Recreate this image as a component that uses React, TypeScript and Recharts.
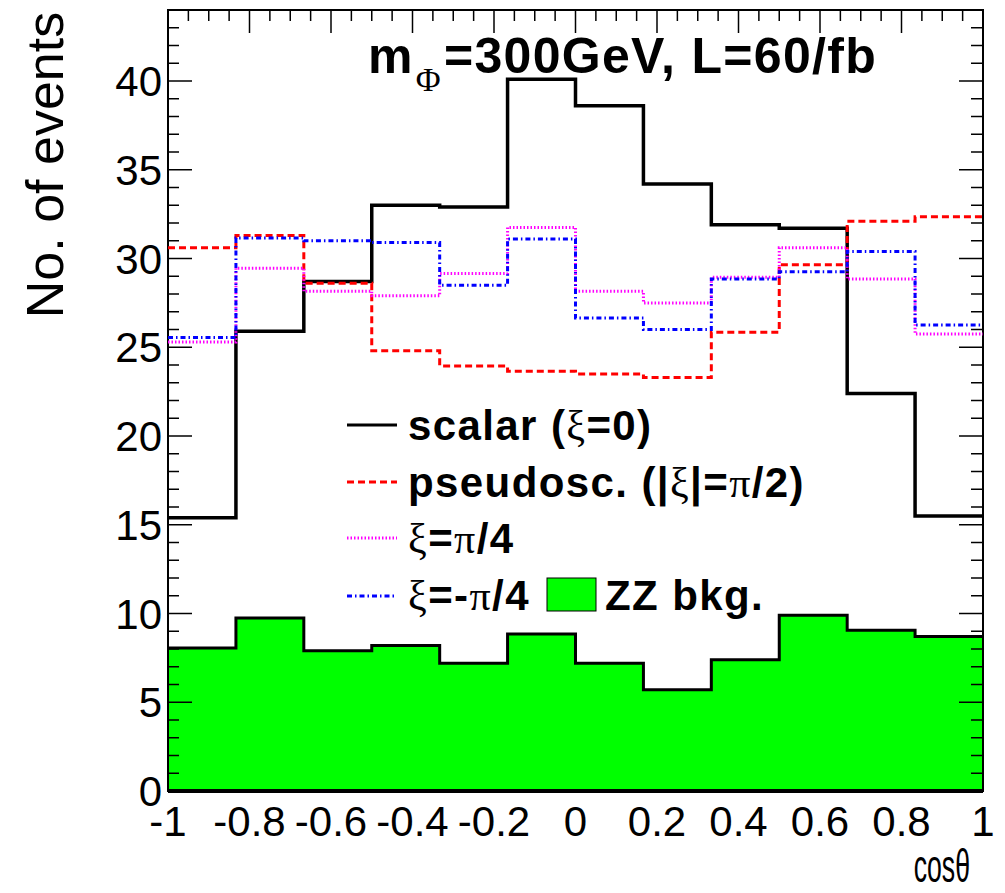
import React from 'react';
import { ComposedChart, Line, Area, XAxis, YAxis, ReferenceArea, ReferenceLine } from 'recharts';

// bin edges of cos(theta), 12 bins
const binEdges = [-1, -0.8333, -0.6667, -0.5, -0.3333, -0.1667, 0, 0.1667, 0.3333, 0.5, 0.6667, 0.8333, 1];

const scalarEvents = [15.4, 25.9, 28.7, 33.0, 32.9, 40.1, 38.6, 34.2, 31.9, 31.7, 22.4, 15.5];
const pseudoEvents = [30.6, 31.3, 28.6, 24.8, 23.95, 23.65, 23.5, 23.3, 25.85, 29.65, 32.1, 32.35];
const xiPlusEvents = [25.3, 29.45, 28.15, 27.9, 29.15, 31.75, 28.15, 27.5, 28.95, 30.6, 28.85, 25.75];
const xiMinusEvents = [25.55, 31.15, 31.0, 30.9, 28.5, 31.1, 26.65, 26.0, 28.85, 29.25, 30.4, 26.25];
const zzBkgEvents = [8.05, 9.75, 7.9, 8.2, 7.2, 8.85, 7.2, 5.7, 7.4, 9.9, 9.05, 8.7];

const xMajorTicks = [-1, -0.8, -0.6, -0.4, -0.2, 0, 0.2, 0.4, 0.6, 0.8, 1];
const yMajorTicks = [0, 5, 10, 15, 20, 25, 30, 35, 40];
const xMinorTicks = Array.from({ length: 41 }, (_, i) => Math.round((-1 + i * 0.05) * 100) / 100);
const yMinorTicks = Array.from({ length: 45 }, (_, i) => i);

const W = 1005;
const H = 893;

// step histograms: one row per bin edge, last edge repeats the last bin
const data = binEdges.map((edge, i) => {
  const b = Math.min(i, 11);
  return {
    edge,
    scalar: scalarEvents[b],
    pseudo: pseudoEvents[b],
    xiPlus: xiPlusEvents[b],
    xiMinus: xiMinusEvents[b],
    zz: zzBkgEvents[b],
  };
});

const FONT = 'Arial, "Liberation Sans", Helvetica, sans-serif';
const GREEK = '"Liberation Serif", "DejaVu Serif", serif';

const isMajorX = (v: number) => Math.abs(v * 5 - Math.round(v * 5)) < 1e-6;

const XLabel = ({ x, y, payload }: any) => (
  <text x={x} y={y + 45} textAnchor="middle" fontSize={42} fontFamily={FONT} fill="#000">
    {String(payload.value)}
  </text>
);

const YLabel = ({ x, y, payload }: any) => (
  <text x={x - 6} y={y + 15} textAnchor="end" fontSize={42} fontFamily={FONT} fill="#000">
    {String(payload.value)}
  </text>
);

const TopTick = ({ x, y, payload }: any) => (
  <line x1={x} x2={x} y1={y} y2={y + (isMajorX(payload.value) ? 23 : 11)} stroke="#000" strokeWidth={1.5} />
);

const LeftTick = ({ x, y, payload }: any) => (
  <line x1={x} x2={x + (payload.value % 5 === 0 ? 25 : 12)} y1={y} y2={y} stroke="#000" strokeWidth={1.5} />
);

const RightTick = ({ x, y, payload }: any) => (
  <line x1={x} x2={x - (payload.value % 5 === 0 ? 24 : 12)} y1={y} y2={y} stroke="#000" strokeWidth={1.5} />
);

const Greek = ({ children }: { children: string }) => (
  <tspan fontFamily={GREEK} fontWeight="normal">{children}</tspan>
);

const Overlay = () => (
  <svg width={W} height={H} style={{ position: 'absolute', left: 0, top: 0, pointerEvents: 'none' }}>
    {/* title */}
    <text x={368} y={73} fontSize={50} fontWeight="bold" fontFamily={FONT} letterSpacing={1.3} fill="#000">
      m
      <tspan fontFamily={GREEK} fontWeight="normal" fontSize={34} dx={2} dy={18}>Φ</tspan>
      <tspan dx={2} dy={-18}>=300GeV, L=60/fb</tspan>
    </text>

    {/* axis titles */}
    <text transform="translate(63,165) rotate(-90)" textAnchor="middle" fontSize={52} fontFamily={FONT} fill="#000">
      No. of events
    </text>
    <text transform="translate(970,882) scale(0.58,1)" textAnchor="end" fontSize={46} fontFamily={FONT} fill="#000">
      cosθ
    </text>

    {/* legend */}
    <g fontFamily={FONT} fontWeight="bold" fontSize={42} letterSpacing={1.4} fill="#000">
      <line x1={347} x2={397} y1={425} y2={425} stroke="#000" strokeWidth={3} />
      <text x={408} y={440}>
        scalar (<Greek>ξ</Greek>=0)
      </text>

      <line x1={347} x2={397} y1={482} y2={482} stroke="#ff0000" strokeWidth={3} strokeDasharray="7 4" />
      <text x={408} y={497}>
        pseudosc. (|<Greek>ξ</Greek>|=<Greek>π</Greek>/2)
      </text>

      <line x1={347} x2={397} y1={538} y2={538} stroke="#ff00ff" strokeWidth={3} strokeDasharray="1.5 2" />
      <text x={408} y={553}>
        <Greek>ξ</Greek>=<Greek>π</Greek>/4
      </text>

      <line x1={347} x2={397} y1={596} y2={596} stroke="#0000ff" strokeWidth={3} strokeDasharray="5 3 1.5 3" />
      <text x={408} y={610}>
        <Greek>ξ</Greek>=-<Greek>π</Greek>/4
      </text>
      <rect x={547} y={578} width={49} height={33} fill="#00ff00" stroke="#000" strokeWidth={1} />
      <text x={605} y={610}>ZZ bkg.</text>
    </g>
  </svg>
);

const axisCommon = {
  type: 'number' as const,
  allowDataOverflow: true,
  interval: 0 as const,
  tickSize: 0,
  tickMargin: 0,
  axisLine: false,
  tickLine: false,
};

export default function App() {
  return (
    <div style={{ position: 'absolute', left: 0, top: 0, width: W, height: H, background: '#fff' }}>
      <ComposedChart width={W} height={H} data={data} margin={{ top: 9, right: 21, bottom: 101, left: 166 }}>
        <XAxis
          {...axisCommon}
          xAxisId="x"
          dataKey="edge"
          domain={[-1, 1]}
          ticks={xMajorTicks}
          height={1}
          tick={(p: any) => <XLabel {...p} />}
        />
        <XAxis
          {...axisCommon}
          xAxisId="xTop"
          dataKey="edge"
          orientation="top"
          domain={[-1, 1]}
          ticks={xMinorTicks}
          height={1}
          tick={(p: any) => <TopTick {...p} />}
        />
        <YAxis
          {...axisCommon}
          yAxisId="y"
          domain={[0, 44]}
          ticks={yMajorTicks}
          width={1}
          tick={(p: any) => <YLabel {...p} />}
        />
        <YAxis
          {...axisCommon}
          yAxisId="yLeftTicks"
          domain={[0, 44]}
          ticks={yMinorTicks}
          width={1}
          tick={(p: any) => <LeftTick {...p} />}
        />
        <YAxis
          {...axisCommon}
          yAxisId="yRightTicks"
          orientation="right"
          domain={[0, 44]}
          ticks={yMinorTicks}
          width={1}
          tick={(p: any) => <RightTick {...p} />}
        />

        <Area
          xAxisId="x"
          yAxisId="y"
          dataKey="zz"
          type="stepAfter"
          baseValue={0}
          fill="#00ff00"
          fillOpacity={1}
          stroke="#000"
          strokeWidth={3}
          dot={false}
          activeDot={false}
          isAnimationActive={false}
        />
        <Line xAxisId="x" yAxisId="y" dataKey="scalar" type="stepAfter" stroke="#000" strokeWidth={3.5} dot={false} activeDot={false} isAnimationActive={false} />
        <Line xAxisId="x" yAxisId="y" dataKey="pseudo" type="stepAfter" stroke="#ff0000" strokeWidth={3} strokeDasharray="7 4" dot={false} activeDot={false} isAnimationActive={false} />
        <Line xAxisId="x" yAxisId="y" dataKey="xiPlus" type="stepAfter" stroke="#ff00ff" strokeWidth={3} strokeDasharray="1.5 2" dot={false} activeDot={false} isAnimationActive={false} />
        <Line xAxisId="x" yAxisId="y" dataKey="xiMinus" type="stepAfter" stroke="#0000ff" strokeWidth={3} strokeDasharray="5 3 1.5 3" dot={false} activeDot={false} isAnimationActive={false} />

        <ReferenceArea xAxisId="x" yAxisId="y" x1={-1} x2={1} y1={0} y2={44} fill="none" fillOpacity={0} stroke="#000" strokeWidth={2} />
        <ReferenceLine xAxisId="x" yAxisId="y" y={0} stroke="#000" strokeWidth={4} />
      </ComposedChart>
      <Overlay />
    </div>
  );
}
